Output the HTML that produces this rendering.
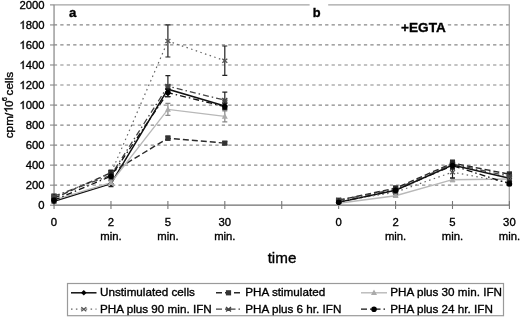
<!DOCTYPE html>
<html><head><meta charset="utf-8"><style>
html,body{margin:0;padding:0;background:#fff;}
body{width:520px;height:318px;overflow:hidden;position:relative;font-family:"Liberation Sans",sans-serif;}
svg{position:absolute;left:0;top:0;filter:grayscale(1);}
svg text{font-family:"Liberation Sans",sans-serif;fill:#000;stroke:#000;stroke-width:0.35px;}
</style></head><body>
<svg width="520" height="318" viewBox="0 0 520 318">
<rect width="520" height="318" fill="#fff"/>
<g>
<line x1="53.8" y1="185.17" x2="509" y2="185.17" stroke="#888" stroke-width="1.2" stroke-dasharray="3.3 3.16"/>
<line x1="53.8" y1="165.14" x2="509" y2="165.14" stroke="#888" stroke-width="1.2" stroke-dasharray="3.3 3.16"/>
<line x1="53.8" y1="145.11" x2="509" y2="145.11" stroke="#888" stroke-width="1.2" stroke-dasharray="3.3 3.16"/>
<line x1="53.8" y1="125.08" x2="509" y2="125.08" stroke="#888" stroke-width="1.2" stroke-dasharray="3.3 3.16"/>
<line x1="53.8" y1="105.05" x2="509" y2="105.05" stroke="#888" stroke-width="1.2" stroke-dasharray="3.3 3.16"/>
<line x1="53.8" y1="85.02" x2="509" y2="85.02" stroke="#888" stroke-width="1.2" stroke-dasharray="3.3 3.16"/>
<line x1="53.8" y1="64.99" x2="509" y2="64.99" stroke="#888" stroke-width="1.2" stroke-dasharray="3.3 3.16"/>
<line x1="53.8" y1="44.96" x2="509" y2="44.96" stroke="#888" stroke-width="1.2" stroke-dasharray="3.3 3.16"/>
<line x1="53.8" y1="24.93" x2="509" y2="24.93" stroke="#888" stroke-width="1.2" stroke-dasharray="3.3 3.16"/>
<path d="M54.05 4.80H509.3V205" stroke="#a4a4a4" stroke-width="1.3" fill="none"/>
<line x1="54.05" y1="4.80" x2="54.05" y2="205" stroke="#8e8e8e" stroke-width="1.3"/>
<line x1="50" y1="205.20" x2="54.05" y2="205.20" stroke="#888" stroke-width="1.1"/>
<line x1="50" y1="185.17" x2="54.05" y2="185.17" stroke="#888" stroke-width="1.1"/>
<line x1="50" y1="165.14" x2="54.05" y2="165.14" stroke="#888" stroke-width="1.1"/>
<line x1="50" y1="145.11" x2="54.05" y2="145.11" stroke="#888" stroke-width="1.1"/>
<line x1="50" y1="125.08" x2="54.05" y2="125.08" stroke="#888" stroke-width="1.1"/>
<line x1="50" y1="105.05" x2="54.05" y2="105.05" stroke="#888" stroke-width="1.1"/>
<line x1="50" y1="85.02" x2="54.05" y2="85.02" stroke="#888" stroke-width="1.1"/>
<line x1="50" y1="64.99" x2="54.05" y2="64.99" stroke="#888" stroke-width="1.1"/>
<line x1="50" y1="44.96" x2="54.05" y2="44.96" stroke="#888" stroke-width="1.1"/>
<line x1="50" y1="24.93" x2="54.05" y2="24.93" stroke="#888" stroke-width="1.1"/>
<line x1="50" y1="4.90" x2="54.05" y2="4.90" stroke="#888" stroke-width="1.1"/>
<line x1="53.449999999999996" y1="205.1" x2="509.4" y2="205.1" stroke="#6e6e6e" stroke-width="1.3"/>
<line x1="54.05" y1="201" x2="54.05" y2="209" stroke="#777" stroke-width="1.1"/>
<line x1="110.97" y1="201" x2="110.97" y2="209" stroke="#777" stroke-width="1.1"/>
<line x1="167.89" y1="201" x2="167.89" y2="209" stroke="#777" stroke-width="1.1"/>
<line x1="224.81" y1="201" x2="224.81" y2="209" stroke="#777" stroke-width="1.1"/>
<line x1="281.73" y1="201" x2="281.73" y2="209" stroke="#777" stroke-width="1.1"/>
<line x1="338.65" y1="201" x2="338.65" y2="209" stroke="#777" stroke-width="1.1"/>
<line x1="395.57" y1="201" x2="395.57" y2="209" stroke="#777" stroke-width="1.1"/>
<line x1="452.49" y1="201" x2="452.49" y2="209" stroke="#777" stroke-width="1.1"/>
<line x1="509.41" y1="201" x2="509.41" y2="209" stroke="#777" stroke-width="1.1"/>
<polyline points="54.0,201.2 111.0,183.7 167.9,89.2 224.8,106.0" fill="none" stroke="#111" stroke-width="1.5"/>
<polyline points="338.7,202.2 395.6,190.2 452.5,165.1 509.4,178.2" fill="none" stroke="#111" stroke-width="1.5"/>
<polyline points="54.0,198.2 111.0,172.7 167.9,138.2 224.8,143.1" fill="none" stroke="#2a2a2a" stroke-width="1.4" stroke-dasharray="6 3"/>
<polyline points="338.7,200.2 395.6,188.2 452.5,163.1 509.4,174.2" fill="none" stroke="#2a2a2a" stroke-width="1.4" stroke-dasharray="6 3"/>
<polyline points="54.0,200.2 111.0,182.7 167.9,109.4 224.8,116.4" fill="none" stroke="#b8b8b8" stroke-width="1.4"/>
<polyline points="338.7,203.2 395.6,195.7 452.5,179.7 509.4,179.0" fill="none" stroke="#b8b8b8" stroke-width="1.4"/>
<polyline points="54.0,197.2 111.0,173.2 167.9,41.0 224.8,60.7" fill="none" stroke="#666" stroke-width="1.2" stroke-dasharray="1.5 3.4"/>
<polyline points="338.7,201.2 395.6,192.2 452.5,172.2 509.4,182.7" fill="none" stroke="#666" stroke-width="1.2" stroke-dasharray="1.5 3.4"/>
<polyline points="54.0,196.2 111.0,175.2 167.9,86.2 224.8,100.2" fill="none" stroke="#444" stroke-width="1.3" stroke-dasharray="6 3 1.5 3"/>
<polyline points="338.7,200.2 395.6,189.2 452.5,164.1 509.4,176.2" fill="none" stroke="#444" stroke-width="1.3" stroke-dasharray="6 3 1.5 3"/>
<polyline points="54.0,200.2 111.0,176.2 167.9,92.6 224.8,106.6" fill="none" stroke="#111" stroke-width="1.3" stroke-dasharray="6 3 1.5 3"/>
<polyline points="338.7,202.2 395.6,190.2 452.5,165.6 509.4,183.7" fill="none" stroke="#111" stroke-width="1.3" stroke-dasharray="6 3 1.5 3"/>
<path d="M54.0 199.2V203.2M51.5 199.2h5M51.5 203.2h5" stroke="#222" stroke-width="1.2" fill="none"/>
<path d="M111.0 180.7V186.7M108.5 180.7h5M108.5 186.7h5" stroke="#222" stroke-width="1.2" fill="none"/>
<path d="M167.9 85.2V93.2M165.4 85.2h5M165.4 93.2h5" stroke="#222" stroke-width="1.2" fill="none"/>
<path d="M224.8 102.9V109.0M222.3 102.9h5M222.3 109.0h5" stroke="#222" stroke-width="1.2" fill="none"/>
<path d="M54.0 198.39999999999998L56.8 201.2L54.0 204.0L51.2 201.2Z" fill="#000"/>
<path d="M111.0 180.89999999999998L113.8 183.7L111.0 186.5L108.2 183.7Z" fill="#000"/>
<path d="M167.9 86.4L170.70000000000002 89.2L167.9 92.0L165.1 89.2Z" fill="#000"/>
<path d="M224.8 103.2L227.60000000000002 106.0L224.8 108.8L222.0 106.0Z" fill="#000"/>
<path d="M338.7 201.2V203.2M336.2 201.2h5M336.2 203.2h5" stroke="#222" stroke-width="1.2" fill="none"/>
<path d="M395.6 188.2V192.2M393.1 188.2h5M393.1 192.2h5" stroke="#222" stroke-width="1.2" fill="none"/>
<path d="M452.5 161.1V169.1M450.0 161.1h5M450.0 169.1h5" stroke="#222" stroke-width="1.2" fill="none"/>
<path d="M509.4 175.2V181.2M506.9 175.2h5M506.9 181.2h5" stroke="#222" stroke-width="1.2" fill="none"/>
<path d="M338.7 199.39999999999998L341.5 202.2L338.7 205.0L335.9 202.2Z" fill="#000"/>
<path d="M395.6 187.39999999999998L398.40000000000003 190.2L395.6 193.0L392.8 190.2Z" fill="#000"/>
<path d="M452.5 162.29999999999998L455.3 165.1L452.5 167.9L449.7 165.1Z" fill="#000"/>
<path d="M509.4 175.39999999999998L512.1999999999999 178.2L509.4 181.0L506.59999999999997 178.2Z" fill="#000"/>
<path d="M54.0 196.2V200.2M51.5 196.2h5M51.5 200.2h5" stroke="#222" stroke-width="1.2" fill="none"/>
<path d="M111.0 170.6V174.7M108.5 170.6h5M108.5 174.7h5" stroke="#222" stroke-width="1.2" fill="none"/>
<path d="M167.9 136.2V140.2M165.4 136.2h5M165.4 140.2h5" stroke="#222" stroke-width="1.2" fill="none"/>
<path d="M224.8 141.6V144.6M222.3 141.6h5M222.3 144.6h5" stroke="#222" stroke-width="1.2" fill="none"/>
<rect x="51.4" y="195.6" width="5.2" height="5.2" fill="#333"/>
<rect x="108.4" y="170.1" width="5.2" height="5.2" fill="#333"/>
<rect x="165.3" y="135.6" width="5.2" height="5.2" fill="#333"/>
<rect x="222.20000000000002" y="140.5" width="5.2" height="5.2" fill="#333"/>
<path d="M338.7 199.2V201.2M336.2 199.2h5M336.2 201.2h5" stroke="#222" stroke-width="1.2" fill="none"/>
<path d="M395.6 186.2V190.2M393.1 186.2h5M393.1 190.2h5" stroke="#222" stroke-width="1.2" fill="none"/>
<path d="M452.5 160.1V166.1M450.0 160.1h5M450.0 166.1h5" stroke="#222" stroke-width="1.2" fill="none"/>
<path d="M509.4 172.2V176.2M506.9 172.2h5M506.9 176.2h5" stroke="#222" stroke-width="1.2" fill="none"/>
<rect x="336.09999999999997" y="197.6" width="5.2" height="5.2" fill="#333"/>
<rect x="393.0" y="185.6" width="5.2" height="5.2" fill="#333"/>
<rect x="449.9" y="160.5" width="5.2" height="5.2" fill="#333"/>
<rect x="506.79999999999995" y="171.6" width="5.2" height="5.2" fill="#333"/>
<path d="M54.0 198.2V202.2M51.5 198.2h5M51.5 202.2h5" stroke="#888" stroke-width="1.2" fill="none"/>
<path d="M111.0 180.7V184.7M108.5 180.7h5M108.5 184.7h5" stroke="#888" stroke-width="1.2" fill="none"/>
<path d="M167.9 103.3V115.4M165.4 103.3h5M165.4 115.4h5" stroke="#888" stroke-width="1.2" fill="none"/>
<path d="M224.8 110.9V121.9M222.3 110.9h5M222.3 121.9h5" stroke="#888" stroke-width="1.2" fill="none"/>
<path d="M54.0 197.0L57.0 202.5L51.0 202.5Z" fill="#aaa"/>
<path d="M111.0 179.5L114.0 185.0L108.0 185.0Z" fill="#aaa"/>
<path d="M167.9 106.2L170.9 111.7L164.9 111.7Z" fill="#aaa"/>
<path d="M224.8 113.2L227.8 118.7L221.8 118.7Z" fill="#aaa"/>
<path d="M338.7 202.2V204.2M336.2 202.2h5M336.2 204.2h5" stroke="#888" stroke-width="1.2" fill="none"/>
<path d="M395.6 194.7V196.7M393.1 194.7h5M393.1 196.7h5" stroke="#888" stroke-width="1.2" fill="none"/>
<path d="M452.5 177.7V181.7M450.0 177.7h5M450.0 181.7h5" stroke="#888" stroke-width="1.2" fill="none"/>
<path d="M509.4 177.0V181.0M506.9 177.0h5M506.9 181.0h5" stroke="#888" stroke-width="1.2" fill="none"/>
<path d="M338.7 200.0L341.7 205.5L335.7 205.5Z" fill="#aaa"/>
<path d="M395.6 192.5L398.6 198.0L392.6 198.0Z" fill="#aaa"/>
<path d="M452.5 176.5L455.5 182.0L449.5 182.0Z" fill="#aaa"/>
<path d="M509.4 175.8L512.4 181.3L506.4 181.3Z" fill="#aaa"/>
<path d="M54.0 195.2V199.2M51.5 195.2h5M51.5 199.2h5" stroke="#222" stroke-width="1.2" fill="none"/>
<path d="M111.0 170.1V176.2M108.5 170.1h5M108.5 176.2h5" stroke="#222" stroke-width="1.2" fill="none"/>
<path d="M167.9 24.9V57.0M165.4 24.9h5M165.4 57.0h5" stroke="#222" stroke-width="1.2" fill="none"/>
<path d="M224.8 46.0V75.4M222.3 46.0h5M222.3 75.4h5" stroke="#222" stroke-width="1.2" fill="none"/>
<path d="M51.5 195.2L56.5 199.2M51.5 199.2L56.5 195.2" stroke="#555" stroke-width="1.3" fill="none"/>
<path d="M108.5 171.2L113.5 175.2M108.5 175.2L113.5 171.2" stroke="#555" stroke-width="1.3" fill="none"/>
<path d="M165.4 39.0L170.4 43.0M165.4 43.0L170.4 39.0" stroke="#555" stroke-width="1.3" fill="none"/>
<path d="M222.3 58.7L227.3 62.7M222.3 62.7L227.3 58.7" stroke="#555" stroke-width="1.3" fill="none"/>
<path d="M338.7 200.2V202.2M336.2 200.2h5M336.2 202.2h5" stroke="#222" stroke-width="1.2" fill="none"/>
<path d="M395.6 191.2V193.2M393.1 191.2h5M393.1 193.2h5" stroke="#222" stroke-width="1.2" fill="none"/>
<path d="M452.5 166.1V178.2M450.0 166.1h5M450.0 178.2h5" stroke="#222" stroke-width="1.2" fill="none"/>
<path d="M509.4 180.7V184.7M506.9 180.7h5M506.9 184.7h5" stroke="#222" stroke-width="1.2" fill="none"/>
<path d="M336.2 199.2L341.2 203.2M336.2 203.2L341.2 199.2" stroke="#555" stroke-width="1.3" fill="none"/>
<path d="M393.1 190.2L398.1 194.2M393.1 194.2L398.1 190.2" stroke="#555" stroke-width="1.3" fill="none"/>
<path d="M450.0 170.2L455.0 174.2M450.0 174.2L455.0 170.2" stroke="#555" stroke-width="1.3" fill="none"/>
<path d="M506.9 180.7L511.9 184.7M506.9 184.7L511.9 180.7" stroke="#555" stroke-width="1.3" fill="none"/>
<path d="M54.0 194.2V198.2M51.5 194.2h5M51.5 198.2h5" stroke="#222" stroke-width="1.2" fill="none"/>
<path d="M111.0 172.2V178.2M108.5 172.2h5M108.5 178.2h5" stroke="#222" stroke-width="1.2" fill="none"/>
<path d="M167.9 75.7V96.7M165.4 75.7h5M165.4 96.7h5" stroke="#222" stroke-width="1.2" fill="none"/>
<path d="M224.8 92.2V108.3M222.3 92.2h5M222.3 108.3h5" stroke="#222" stroke-width="1.2" fill="none"/>
<path d="M51.5 194.0L56.5 198.39999999999998M51.5 198.39999999999998L56.5 194.0M51.2 196.2L56.8 196.2" stroke="#444" stroke-width="1.3" fill="none"/>
<path d="M108.5 173.0L113.5 177.39999999999998M108.5 177.39999999999998L113.5 173.0M108.2 175.2L113.8 175.2" stroke="#444" stroke-width="1.3" fill="none"/>
<path d="M165.4 84.0L170.4 88.4M165.4 88.4L170.4 84.0M165.1 86.2L170.70000000000002 86.2" stroke="#444" stroke-width="1.3" fill="none"/>
<path d="M222.3 98.0L227.3 102.4M222.3 102.4L227.3 98.0M222.0 100.2L227.60000000000002 100.2" stroke="#444" stroke-width="1.3" fill="none"/>
<path d="M338.7 199.2V201.2M336.2 199.2h5M336.2 201.2h5" stroke="#222" stroke-width="1.2" fill="none"/>
<path d="M395.6 187.2V191.2M393.1 187.2h5M393.1 191.2h5" stroke="#222" stroke-width="1.2" fill="none"/>
<path d="M452.5 161.1V167.1M450.0 161.1h5M450.0 167.1h5" stroke="#222" stroke-width="1.2" fill="none"/>
<path d="M509.4 173.2V179.2M506.9 173.2h5M506.9 179.2h5" stroke="#222" stroke-width="1.2" fill="none"/>
<path d="M336.2 198.0L341.2 202.39999999999998M336.2 202.39999999999998L341.2 198.0M335.9 200.2L341.5 200.2" stroke="#444" stroke-width="1.3" fill="none"/>
<path d="M393.1 187.0L398.1 191.39999999999998M393.1 191.39999999999998L398.1 187.0M392.8 189.2L398.40000000000003 189.2" stroke="#444" stroke-width="1.3" fill="none"/>
<path d="M450.0 161.9L455.0 166.29999999999998M450.0 166.29999999999998L455.0 161.9M449.7 164.1L455.3 164.1" stroke="#444" stroke-width="1.3" fill="none"/>
<path d="M506.9 174.0L511.9 178.39999999999998M506.9 178.39999999999998L511.9 174.0M506.59999999999997 176.2L512.1999999999999 176.2" stroke="#444" stroke-width="1.3" fill="none"/>
<path d="M54.0 198.2V202.2M51.5 198.2h5M51.5 202.2h5" stroke="#222" stroke-width="1.2" fill="none"/>
<path d="M111.0 173.2V179.2M108.5 173.2h5M108.5 179.2h5" stroke="#222" stroke-width="1.2" fill="none"/>
<path d="M167.9 88.6V96.6M165.4 88.6h5M165.4 96.6h5" stroke="#222" stroke-width="1.2" fill="none"/>
<path d="M224.8 103.5V109.6M222.3 103.5h5M222.3 109.6h5" stroke="#222" stroke-width="1.2" fill="none"/>
<circle cx="54.0" cy="200.2" r="2.8" fill="#000"/>
<circle cx="111.0" cy="176.2" r="2.8" fill="#000"/>
<circle cx="167.9" cy="92.6" r="2.8" fill="#000"/>
<circle cx="224.8" cy="106.6" r="2.8" fill="#000"/>
<path d="M338.7 201.2V203.2M336.2 201.2h5M336.2 203.2h5" stroke="#222" stroke-width="1.2" fill="none"/>
<path d="M395.6 188.2V192.2M393.1 188.2h5M393.1 192.2h5" stroke="#222" stroke-width="1.2" fill="none"/>
<path d="M452.5 162.6V168.6M450.0 162.6h5M450.0 168.6h5" stroke="#222" stroke-width="1.2" fill="none"/>
<path d="M509.4 181.7V185.7M506.9 181.7h5M506.9 185.7h5" stroke="#222" stroke-width="1.2" fill="none"/>
<circle cx="338.7" cy="202.2" r="2.8" fill="#000"/>
<circle cx="395.6" cy="190.2" r="2.8" fill="#000"/>
<circle cx="452.5" cy="165.6" r="2.8" fill="#000"/>
<circle cx="509.4" cy="183.7" r="2.8" fill="#000"/>
<rect x="64" y="6" width="16" height="14" fill="#fff"/>
<text x="68.9" y="17.3" font-size="13.2" font-weight="bold">a</text>
<rect x="309.6" y="1" width="18.6" height="18" fill="#fff"/>
<text x="312.8" y="17.0" font-size="12.8" font-weight="bold">b</text>
<rect x="399.8" y="19" width="46.4" height="16" fill="#fff"/>
<text x="401.1" y="31.9" font-size="13.6" font-weight="bold">+EGTA</text>
<g font-size="11.3" text-anchor="end">
<text x="44.6" y="209.2">0</text>
<text x="44.6" y="189.2">200</text>
<text x="44.6" y="169.1">400</text>
<text x="44.6" y="149.1">600</text>
<text x="44.6" y="129.1">800</text>
<path transform="translate(19.47,109.05) scale(0.005518,-0.005518)" d="M763 0L583 0L583 1147Q518 1085 412 1023Q306 961 222 930L222 1104Q373 1175 486 1276Q599 1377 646 1472L763 1472Z" fill="#000" stroke="#000" stroke-width="0.35" vector-effect="non-scaling-stroke"/>
<text x="44.6" y="109.0">000</text>
<path transform="translate(19.47,89.02) scale(0.005518,-0.005518)" d="M763 0L583 0L583 1147Q518 1085 412 1023Q306 961 222 930L222 1104Q373 1175 486 1276Q599 1377 646 1472L763 1472Z" fill="#000" stroke="#000" stroke-width="0.35" vector-effect="non-scaling-stroke"/>
<text x="44.6" y="89.0">200</text>
<path transform="translate(19.47,68.99) scale(0.005518,-0.005518)" d="M763 0L583 0L583 1147Q518 1085 412 1023Q306 961 222 930L222 1104Q373 1175 486 1276Q599 1377 646 1472L763 1472Z" fill="#000" stroke="#000" stroke-width="0.35" vector-effect="non-scaling-stroke"/>
<text x="44.6" y="69.0">400</text>
<path transform="translate(19.47,48.96) scale(0.005518,-0.005518)" d="M763 0L583 0L583 1147Q518 1085 412 1023Q306 961 222 930L222 1104Q373 1175 486 1276Q599 1377 646 1472L763 1472Z" fill="#000" stroke="#000" stroke-width="0.35" vector-effect="non-scaling-stroke"/>
<text x="44.6" y="49.0">600</text>
<path transform="translate(19.47,28.93) scale(0.005518,-0.005518)" d="M763 0L583 0L583 1147Q518 1085 412 1023Q306 961 222 930L222 1104Q373 1175 486 1276Q599 1377 646 1472L763 1472Z" fill="#000" stroke="#000" stroke-width="0.35" vector-effect="non-scaling-stroke"/>
<text x="44.6" y="28.9">800</text>
<text x="44.6" y="8.9">2000</text>
</g>
<g font-size="11.3" text-anchor="middle">
<text x="54.0" y="226">0</text>
<text x="111.0" y="226">2</text>
<text x="167.9" y="226">5</text>
<text x="224.8" y="226">30</text>
<text x="338.7" y="226">0</text>
<text x="395.6" y="226">2</text>
<text x="452.5" y="226">5</text>
<text x="509.4" y="226">30</text>
<text x="111.0" y="240.2">min.</text>
<text x="167.9" y="240.2">min.</text>
<text x="224.8" y="240.2">min.</text>
<text x="395.6" y="240.2">min.</text>
<text x="452.5" y="240.2">min.</text>
<text x="509.4" y="240.2">min.</text>
</g>
<text x="282" y="263.2" font-size="15.2" text-anchor="middle">time</text>
<g transform="translate(12.6,0) rotate(-90)" font-size="11.8">
<text x="-138.3" y="0">cpm/</text>
<path transform="translate(-112.73,0.00) scale(0.005762,-0.005762)" d="M763 0L583 0L583 1147Q518 1085 412 1023Q306 961 222 930L222 1104Q373 1175 486 1276Q599 1377 646 1472L763 1472Z" fill="#000" stroke="#000" stroke-width="0.35" vector-effect="non-scaling-stroke"/>
<text x="-107.0" y="0">0</text>
<text x="-101.2" y="-5.8" font-size="7.5">6</text>
<text x="-95.4" y="0">cells</text>
</g>
<rect x="67.5" y="283.5" width="436" height="32.2" fill="#fff" stroke="#9a9a9a" stroke-width="1.2"/>
<line x1="71" y1="292.8" x2="96.5" y2="292.8" stroke="#111" stroke-width="1.5"/>
<path d="M83.8 290.0L86.6 292.8L83.8 295.6L81.0 292.8Z" fill="#000"/>
<text x="100" y="296.4" font-size="11.7">Unstimulated cells</text>
<line x1="216" y1="292.8" x2="241" y2="292.8" stroke="#2a2a2a" stroke-width="1.4" stroke-dasharray="6 3"/>
<rect x="225.9" y="290.2" width="5.2" height="5.2" fill="#333"/>
<text x="245.3" y="296.4" font-size="11.7">PHA stimulated</text>
<line x1="361" y1="292.8" x2="387" y2="292.8" stroke="#b8b8b8" stroke-width="1.4"/>
<path d="M374.0 289.6L377.0 295.1L371.0 295.1Z" fill="#aaa"/>
<text x="390.3" y="296.4" font-size="11.7">PHA plus 30 min. IFN</text>
<line x1="71" y1="309.2" x2="96.5" y2="309.2" stroke="#666" stroke-width="1.2" stroke-dasharray="1.5 3.4"/>
<path d="M81.3 307.2L86.3 311.2M81.3 311.2L86.3 307.2" stroke="#555" stroke-width="1.3" fill="none"/>
<text x="100" y="312.8" font-size="11.7">PHA plus 90 min. IFN</text>
<line x1="216" y1="309.2" x2="241" y2="309.2" stroke="#444" stroke-width="1.3" stroke-dasharray="6 3 1.5 3"/>
<path d="M226.0 307.0L231.0 311.4M226.0 311.4L231.0 307.0M225.7 309.2L231.3 309.2" stroke="#444" stroke-width="1.3" fill="none"/>
<text x="245.3" y="312.8" font-size="11.7">PHA plus 6 hr. IFN</text>
<line x1="361" y1="309.2" x2="387" y2="309.2" stroke="#111" stroke-width="1.3" stroke-dasharray="6 3 1.5 3"/>
<circle cx="374.0" cy="309.2" r="2.8" fill="#000"/>
<text x="390.3" y="312.8" font-size="11.7">PHA plus 24 hr. IFN</text>
</g>
</svg>
</body></html>
